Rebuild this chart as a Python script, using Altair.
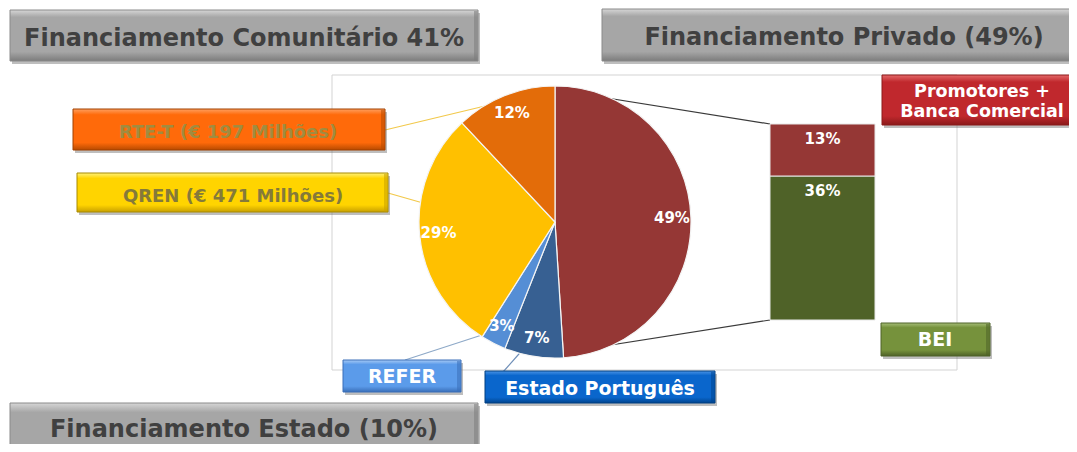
import altair as alt
import pandas as pd

# ---------------- data ----------------
pie_segments = ["Financiamento Privado", "Estado Português", "REFER", "QREN", "RTE-T"]
pie_values = [49, 7, 3, 29, 12]
pie_colors = ["#953735", "#376092", "#558ED5", "#FFC000", "#E36C09"]

bar_segments = ["BEI", "Promotores + Banca Comercial"]
bar_values = [36, 13]
bar_colors = ["#4F6228", "#953735"]

title_texts = ["Financiamento Comunitário 41%", "Financiamento Privado (49%)", "Financiamento Estado (10%)"]
label_texts = ["RTE-T (€ 197 Milhões)", "QREN (€ 471 Milhões)", "REFER", "Estado Português",
               "Promotores +\nBanca Comercial", "BEI"]

# ---------------- layout (page pixels) ----------------
OFF = 8
W, H = 1061, 436
FONT = "DejaVu Sans"


def px(v):
    return v - OFF


one = pd.DataFrame({"k": [0]})

pie_df = pd.DataFrame({
    "segment": pie_segments,
    "value": pie_values,
    "idx": list(range(len(pie_values))),
    "label": [f"{v}%" for v in pie_values],
})
bar_df = pd.DataFrame({
    "part": bar_segments,
    "value": bar_values,
    "idx": list(range(len(bar_values))),
    "label": [f"{v}%" for v in bar_values],
})

PIE_CX, PIE_CY, PIE_R = 555, 222, 136
BAR_X0, BAR_X1, BAR_Y0, BAR_Y1 = 770, 875, 320, 124


def rect(x0, y0, x1, y1, **mk):
    return alt.Chart(one).mark_rect(**mk).encode(
        x=alt.value(px(x0)), x2=alt.value(px(x1)), y=alt.value(px(y0)), y2=alt.value(px(y1))
    )


def rule(x0, y0, x1, y1, color, width=1.0):
    return alt.Chart(one).mark_rule(color=color, strokeWidth=width).encode(
        x=alt.value(px(x0)), x2=alt.value(px(x1)), y=alt.value(px(y0)), y2=alt.value(px(y1))
    )


def grad(top, mid, bot):
    return {
        "gradient": "linear", "x1": 0, "y1": 0, "x2": 0, "y2": 1,
        "stops": [
            {"offset": 0, "color": top},
            {"offset": 0.14, "color": mid},
            {"offset": 0.82, "color": mid},
            {"offset": 1, "color": bot},
        ],
    }


def box(x0, y0, x1, y1, top, mid, bot, edge, text, tcolor, size, cx, base, line_height=None):
    layers = [
        rect(x0 + 2, y0 + 3, x1 + 2, y1 + 3, fill="#6F6F6F", opacity=0.45),
        rect(x0, y0, x1, y1, fill=grad(top, mid, bot), stroke=edge, strokeWidth=1),
        rect(x1 - 4, y0 + 1, x1 - 0.5, y1 - 0.5, fill=bot, opacity=0.55),
    ]
    tk = dict(text=text, font=FONT, fontWeight="bold", fontSize=size, color=tcolor,
              align="center", baseline="alphabetic")
    if line_height:
        tk.update(lineBreak="\n", lineHeight=line_height)
    layers.append(alt.Chart(one).mark_text(**tk).encode(x=alt.value(px(cx)), y=alt.value(px(base))))
    return layers


layers = []

# chart frame
layers.append(rect(332, 75, 957, 370, fill="white", stroke="#D3D3D3", strokeWidth=1))

# connector lines pie -> bar
layers.append(rule(557, 90, BAR_X0, BAR_Y1, "#3A3A3A", 1.2))
layers.append(rule(560, 353, BAR_X0, BAR_Y0, "#3A3A3A", 1.2))

# leader lines
layers.append(rule(385, 130, 485, 106, "#F2C94C", 1.2))
layers.append(rule(388, 193, 430, 205, "#F2C94C", 1.2))
layers.append(rule(405, 360, 485, 334, "#8EA9C8", 1.2))
layers.append(rule(503, 372, 526, 346, "#6F8FB8", 1.2))

# pie
theta = alt.Theta("value:Q", stack=True)
layers.append(
    alt.Chart(pie_df).mark_arc(outerRadius=PIE_R, stroke="#F4F4F4", strokeWidth=1.2).encode(
        theta=theta,
        fill=alt.Fill("segment:N", scale=alt.Scale(domain=pie_segments, range=pie_colors), legend=None),
        order=alt.Order("idx:Q"),
        x=alt.value(px(PIE_CX)), y=alt.value(px(PIE_CY)),
    )
)
layers.append(
    alt.Chart(pie_df).mark_text(radius=117, font=FONT, fontWeight="bold", fontSize=15,
                                color="white", align="center", baseline="middle").encode(
        theta=theta, text="label:N", order=alt.Order("idx:Q"),
        x=alt.value(px(PIE_CX)), y=alt.value(px(PIE_CY)),
    )
)

# stacked bar
yscale = alt.Scale(domain=[0, sum(bar_values)], range=[px(BAR_Y0), px(BAR_Y1)])
bar_base = alt.Chart(bar_df).transform_stack(
    stack="value", as_=["y0", "y1"], groupby=[], sort=[alt.SortField("idx", order="ascending")]
)
layers.append(
    bar_base.mark_rect(stroke="#E8E8E8", strokeWidth=1).encode(
        x=alt.value(px(BAR_X0)), x2=alt.value(px(BAR_X1)),
        y=alt.Y("y0:Q", scale=yscale, axis=None), y2="y1:Q",
        color=alt.Color("part:N", scale=alt.Scale(domain=bar_segments, range=bar_colors), legend=None),
    )
)
layers.append(
    bar_base.mark_text(font=FONT, fontWeight="bold", fontSize=15, color="white",
                       align="center", baseline="middle", dy=15).encode(
        x=alt.value(px((BAR_X0 + BAR_X1) / 2)),
        y=alt.Y("y1:Q", scale=yscale, axis=None), text="label:N",
    )
)

# title boxes
gray = ("#D6D6D6", "#A6A6A6", "#7C7C7C", "#8A8A8A")
layers += box(10, 10, 478, 61, *gray, title_texts[0], "#404040", 24, 244, 45.5)
layers += box(602, 9, 1080, 61, *gray, title_texts[1], "#404040", 24, 844, 45)
layers += box(10, 403, 478, 470, *gray, title_texts[2], "#404040", 24, 244, 437)

# category label boxes
layers += box(73, 109, 385, 150, "#FFA060", "#FF6A0A", "#B84A00", "#A04000",
              label_texts[0], "#A08C40", 18, 228, 138)
layers += box(77, 173, 388, 212, "#FFF27A", "#FFD400", "#C8A000", "#A88A00",
              label_texts[1], "#857A3A", 18, 233, 202)
layers += box(343, 360, 461, 392, "#A8CBF6", "#5B9BEA", "#3A6FB8", "#3A6FB8",
              label_texts[2], "white", 19, 402, 383)
layers += box(485, 371, 715, 403, "#4A94E6", "#0A66CC", "#00458F", "#003F80",
              label_texts[3], "white", 19, 600, 395)
layers += box(882, 75, 1080, 125, "#E46A6A", "#C0282D", "#8B1A1A", "#8B1A1A",
              label_texts[4], "white", 17.5, 982, 97, line_height=20)
layers += box(881, 323, 990, 356, "#A6BE78", "#76923C", "#4F6228", "#4F6228",
              label_texts[5], "white", 19, 935, 346)

chart = alt.layer(*layers).resolve_scale(color="independent", fill="independent").properties(
    width=W, height=H, padding=0, autosize=alt.AutoSizeParams(type="none")
).configure_view(strokeWidth=0, stroke="transparent", fill="transparent")

chart.save("out.html", embed_options={"renderer": "svg", "actions": False})
